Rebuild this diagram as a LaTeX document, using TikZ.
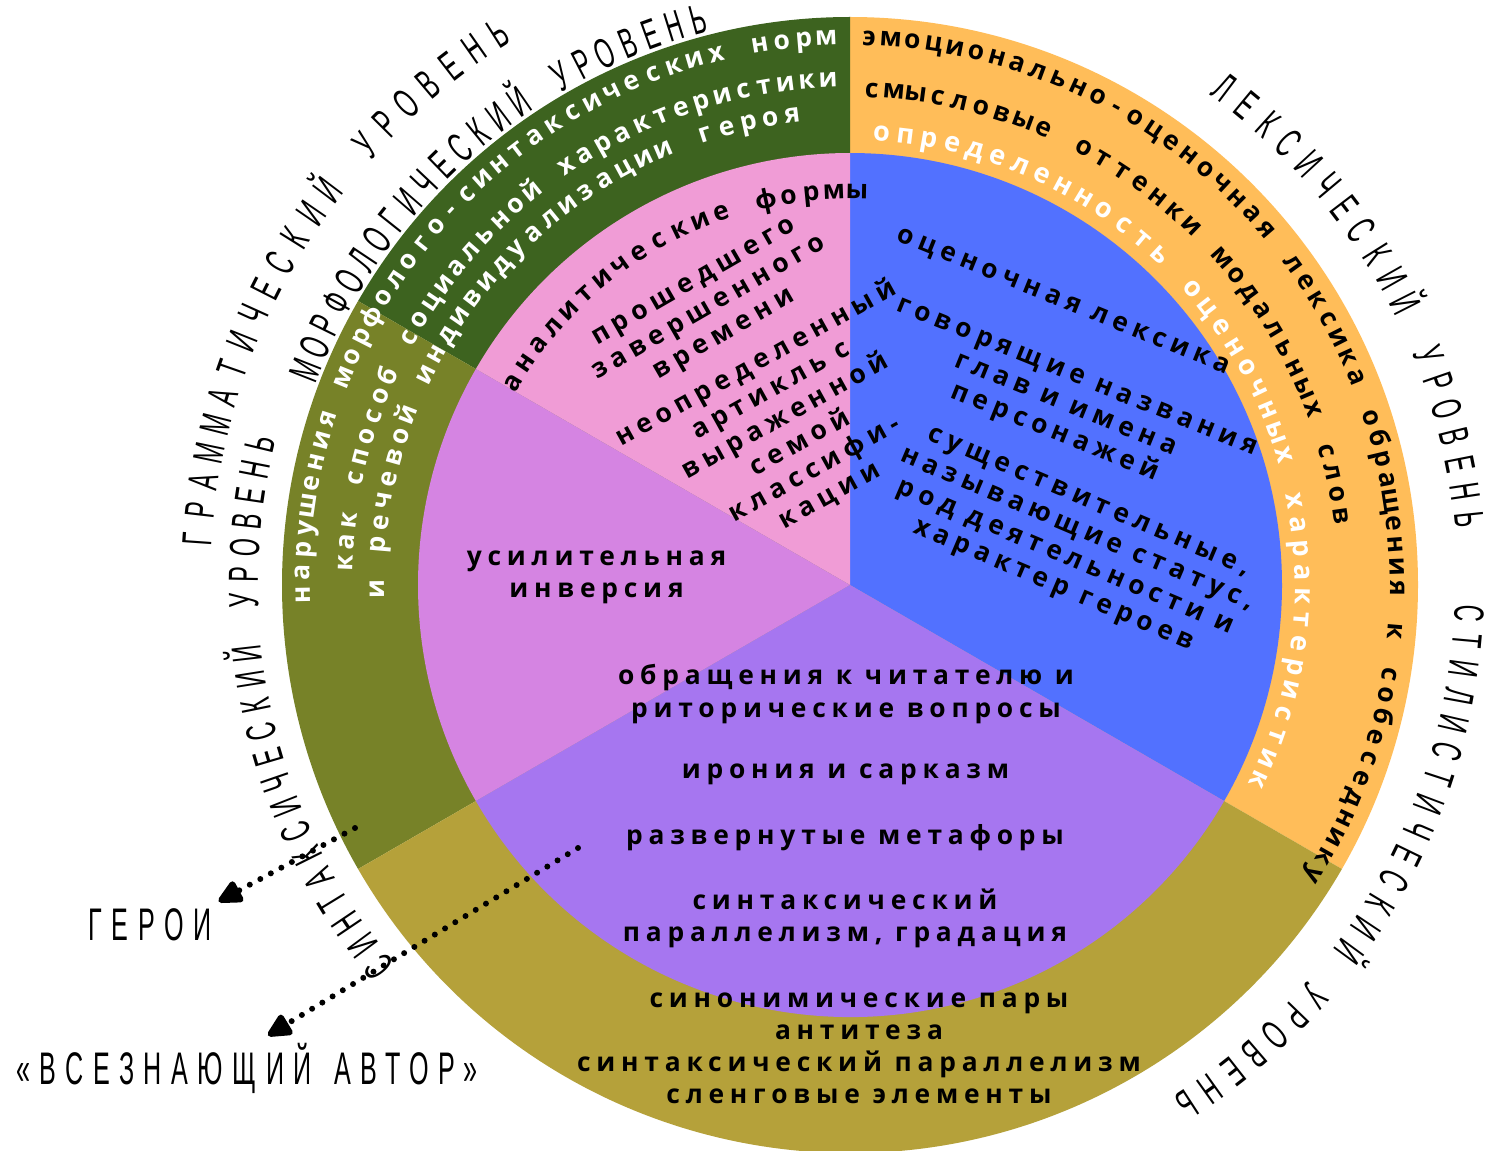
\documentclass[tikz,border=0pt]{standalone}
\usepackage{fontspec}
\usetikzlibrary{arrows.meta}

\newfontfamily\levelfamily{Liberation Sans}[FakeStretch=0.55]
\newfontfamily\rolefamily{Liberation Sans}[FakeStretch=0.55,LetterSpace=21]
\newfontfamily\blockfamily{Open Sans}[LetterSpace=22]
\newfontfamily\ringfamily{Open Sans}
\newcommand\levelfont{\levelfamily\fontsize{24}{28}\selectfont}
\newcommand\rolefont{\rolefamily\fontsize{26}{30}\selectfont}
\newcommand\blockfont{\blockfamily\bfseries\fontsize{15}{18.3}\selectfont}
\newcommand\tiltfont{\blockfamily\bfseries\fontsize{15}{17.2}\selectfont}
\newcommand\ringfont{\ringfamily\bfseries\fontsize{15}{18}\selectfont}
\newcommand\bigringfont{\ringfamily\bfseries\fontsize{15.5}{18}\selectfont}

\definecolor{orangering}{HTML}{FFBD59}
\definecolor{greendark}{HTML}{3D631F}
\definecolor{greenolive}{HTML}{778228}
\definecolor{khakiring}{HTML}{B5A13A}
\definecolor{pinkpart}{HTML}{F09CD6}
\definecolor{violetpart}{HTML}{D584E2}
\definecolor{purplepart}{HTML}{A676F0}
\definecolor{bluepart}{HTML}{5271FF}

% text set letter by letter on a circle round (0,0), read clockwise
\ExplSyntaxOn
\box_new:N \l__ring_box
\fp_new:N \l__ring_total_fp
\fp_new:N \l__ring_gap_fp
\fp_new:N \l__ring_pos_fp
\fp_new:N \l__ring_w_fp
\fp_new:N \l__ring_a_fp
\int_new:N \l__ring_n_int
\tl_new:N \l__ring_x_tl
\tl_new:N \l__ring_y_tl
\tl_new:N \l__ring_r_tl
\NewDocumentCommand \ringtext { O{} m m m m m }
  {
    % #1 node options, #2 font, #3 baseline radius, #4 start angle, #5 end angle, #6 text
    \fp_zero:N \l__ring_total_fp
    \int_zero:N \l__ring_n_int
    \str_map_inline:nn {#6}
      {
        \hbox_set:Nn \l__ring_box { #2 ##1 }
        \fp_add:Nn \l__ring_total_fp { \dim_to_fp:n { \box_wd:N \l__ring_box } }
        \int_incr:N \l__ring_n_int
      }
    \fp_set:Nn \l__ring_gap_fp
      { ( #3 * 28.45274 * ( ( #4 ) - ( #5 ) ) * pi / 180 - \l__ring_total_fp ) / ( \l__ring_n_int - 1 ) }
    \fp_zero:N \l__ring_pos_fp
    \str_map_inline:nn {#6}
      {
        \hbox_set:Nn \l__ring_box { #2 ##1 }
        \fp_set:Nn \l__ring_w_fp { \dim_to_fp:n { \box_wd:N \l__ring_box } }
        \fp_set:Nn \l__ring_a_fp
          { ( #4 ) - ( \l__ring_pos_fp + \l__ring_w_fp / 2 ) / ( #3 * 28.45274 ) * 180 / pi }
        \tl_set:Nx \l__ring_x_tl { \fp_eval:n { round ( #3 * cosd ( \l__ring_a_fp ) , 4 ) } }
        \tl_set:Nx \l__ring_y_tl { \fp_eval:n { round ( #3 * sind ( \l__ring_a_fp ) , 4 ) } }
        \tl_set:Nx \l__ring_r_tl { \fp_eval:n { round ( \l__ring_a_fp - 90 , 3 ) } }
        \node [ anchor = base, inner~sep = 0pt, rotate = \l__ring_r_tl, #1 ]
          at ( \l__ring_x_tl , \l__ring_y_tl ) { #2 ##1 };
        \fp_add:Nn \l__ring_pos_fp { \l__ring_w_fp + \l__ring_gap_fp }
      }
  }
\ExplSyntaxOff

\tikzset{
  block/.style={font=\blockfont, align=center, inner sep=2pt},
  tilt/.style={block, font=\tiltfont},
  role/.style={font=\rolefont, inner sep=4pt},
  dotarrow/.style={line width=3.4pt, dash pattern=on 0pt off 6.8pt, line cap=round,
    -{Triangle[length=0.55cm, width=0.5cm, round]}}
}

\begin{document}
\begin{tikzpicture}
  \useasboundingbox (-17, -11.3) rectangle (13, 11.7);
  \fill[white] (-17, -11.3) rectangle (13, 11.7);
  \coordinate (c) at (0, 0);

    %%outer ring
    \fill[orangering] (c) -- (90:11.36) arc[start angle=90, end angle=-30, radius=11.36] -- cycle;
    \fill[greendark] (c) -- (90:11.36) arc[start angle=90, end angle=150, radius=11.36] -- cycle;
    \fill[greenolive] (c) -- (150:11.36) arc[start angle=150, end angle=210, radius=11.36] -- cycle;
    \fill[khakiring] (c) -- (210:11.36) arc[start angle=210, end angle=330, radius=11.36] -- cycle;
    %%inner circle
    \fill[bluepart] (c) -- (90:8.64) arc[start angle=90, end angle=-30, radius=8.64] -- cycle;
    \fill[pinkpart] (c) -- (90:8.64) arc[start angle=90, end angle=150, radius=8.64] -- cycle;
    \fill[violetpart] (c) -- (150:8.64) arc[start angle=150, end angle=210, radius=8.64] -- cycle;
    \fill[purplepart] (c) -- (210:8.64) arc[start angle=210, end angle=330, radius=8.64] -- cycle;

    %%green ring
    \ringtext[text=white]{\ringfont}{10.8}{181}{92.5}{нарушения морфолого-синтаксических норм}
    \ringtext[text=white]{\ringfont}{9.96}{177.5}{92.5}{как способ социальной характеристики}
    \ringtext[text=white]{\ringfont}{9.32}{180.5}{97}{и речевой индивидуализации героя}
    %%orange ring
    \ringtext{\ringfont}{10.8}{88}{-32}{эмоционально-оценочная лексика обращения к собеседнику}
    \ringtext{\ringfont}{9.76}{87.5}{8}{смысловые оттенки модальных слов}
    \ringtext[text=white]{\bigringfont}{8.9}{86}{-25.5}{определенность оценочных характеристик}

    %%pink part
    \ringtext{\ringfont}{7.72}{149}{89}{аналитические формы}
    \node[tilt, rotate=30] (past) at (-2.8, 5.5) {прошедшего\\завершенного\\времени};
    \node[tilt, rotate=29] (article) at (-1.15, 3.11)
      {неопределенный\\артикль с\\выраженной\\семой\\классифи-\\кации};
    %%blue part
    \node[tilt, rotate=-22] (evallex) at (4.26, 5.64) {оценочная лексика};
    \node[tilt, rotate=-22] (names) at (4.3, 3.56) {говорящие названия\\глав и имена\\персонажей};
    \node[tilt, rotate=-23] (nouns) at (4.41, 0.79)
      {существительные,\\называющие статус,\\род деятельности и\\характер героев};
    %%violet part
    \node[block] (inversion) at (-5.07, 0.15) {усилительная\\инверсия};
    %%purple part
    \node[block] (address) at (-0.08, -2.18) {обращения к читателю и\\риторические вопросы};
    \node[block] (irony) at (-0.09, -3.78) {ирония и сарказм};
    \node[block] (metaphor) at (-0.1, -5.06) {развернутые метафоры};
    \node[block] (gradation) at (-0.1, -6.66) {синтаксический\\параллелизм, градация};
    %%khaki ring
    \node[block] (synonyms) at (0.18, -9.27)
      {синонимические пары\\антитеза\\синтаксический параллелизм\\сленговые элементы};

    %%levels
    \ringtext{\levelfont}{12.8}{176}{122.5}{ГРАММАТИЧЕСКИЙ УРОВЕНЬ}
    \ringtext{\levelfont}{11.42}{158.5}{105}{МОРФОЛОГИЧЕСКИЙ УРОВЕНЬ}
    \ringtext{\levelfont}{11.84}{219}{166.5}{СИНТАКСИЧЕСКИЙ УРОВЕНЬ}
    \ringtext{\levelfont}{12.16}{53}{6}{ЛЕКСИЧЕСКИЙ УРОВЕНЬ}
    \ringtext{\levelfont}{12.1}{-2.6}{-57}{СТИЛИСТИЧЕСКИЙ УРОВЕНЬ}

    %%roles
    \node[role] (geroi) at (-14, -6.8) {ГЕРОИ};
    \node[role] (avtor) at (-12.06, -9.66) {«ВСЕЗНАЮЩИЙ\hspace{0.5em}АВТОР»};
    \coordinate (geroitail) at (-9.9, -4.86);
    \coordinate (avtortail) at (-5.44, -5.26);
    \draw[dotarrow] (geroitail) -- (geroi.north east);
    \draw[dotarrow] (avtortail) -- ([xshift=0.42cm]avtor.north);
\end{tikzpicture}
\end{document}
